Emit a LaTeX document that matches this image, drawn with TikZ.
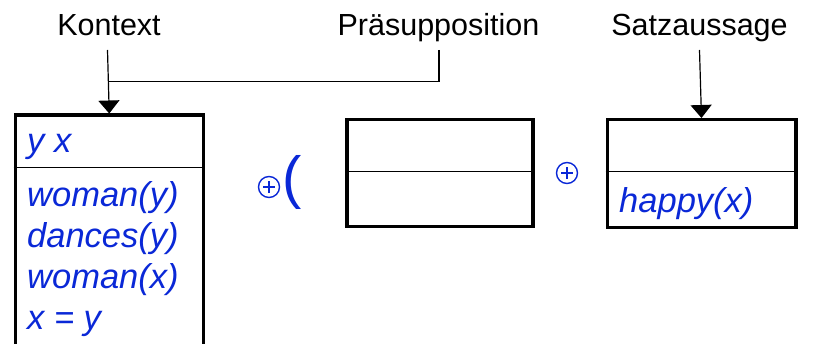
\documentclass[tikz,border=0pt]{standalone}
\usepackage{fontspec}
\setmainfont{Liberation Sans}
\usetikzlibrary{arrows.meta}
\definecolor{drsblue}{RGB}{10,40,215}
\begin{document}
\begin{tikzpicture}[x=1pt,y=-1pt,
  lbl/.style={font=\fontsize{30.5}{36}\selectfont, anchor=base, inner sep=0pt},
  blu/.style={font=\fontsize{34.5}{41}\selectfont\itshape, text=drsblue, anchor=base west, inner sep=0pt},
  drsbox/.style={draw, line width=3.5pt, rectangle, inner sep=0pt, anchor=north west},
  div/.style={line width=1.6pt},
  conn/.style={line width=1.2pt},
  tip/.style={-{Triangle[width=21pt,length=13pt]}},
  opl/.style={circle, draw=drsblue, line width=1.4pt, minimum size=21pt, inner sep=0pt},
  plusarm/.style={draw=drsblue, line width=1.6pt}]
\clip (0,0) rectangle (830,344);
\fill[white] (0,0) rectangle (830,344);
% labels
\node[lbl] (kon) at (109,36) {Kontext};
\node[lbl] (pra) at (438.5,36) {Präsupposition};
\node[lbl] (sat) at (699.5,36) {Satzaussage};
% boxes
\node[drsbox, minimum width=188pt, minimum height=260pt] (kbox) at (13.5,113.5) {};
\node[drsbox, minimum width=186pt, minimum height=107pt] (mbox) at (345,118) {};
\node[drsbox, minimum width=188.5pt, minimum height=108pt] (sbox) at (605.5,118) {};
\draw[div] (13.5,167.7) -- (201.5,167.7);
\draw[div] (345,171.7) -- (531,171.7);
\draw[div] (605.5,171.7) -- (794,171.7);
% texts
\node[blu] (kt1) at (27,153) {y x};
\node[blu] (kt2) at (27,207) {woman(y)};
\node[blu] (kt3) at (27,247.5) {dances(y)};
\node[blu] (kt4) at (27,288.5) {woman(x)};
\node[blu] (kt5) at (27,330) {x = y};
\node[blu] (st1) at (619,213) {happy(x)};
% operators
\node[opl] (op1) at (269,187) {};
\draw[plusarm] ([xshift=-6pt]op1.center) -- ([xshift=6pt]op1.center);
\draw[plusarm] ([yshift=-6pt]op1.center) -- ([yshift=6pt]op1.center);
\node[blu, font=\fontsize{58}{60}\selectfont, anchor=base west] (par) at (282,198) {(};
\node[opl] (op2) at (567,173) {};
\draw[plusarm] ([xshift=-6pt]op2.center) -- ([xshift=6pt]op2.center);
\draw[plusarm] ([yshift=-6pt]op2.center) -- ([yshift=6pt]op2.center);
% connectors
\coordinate (ks) at (107.5,50);
\coordinate (ps) at (439,50);
\coordinate (ss) at (699.5,50);
\coordinate (pj) at (439,81.7);
\draw[conn, tip] (ks) -- (kbox.north);
\draw[conn] (ps) -- (pj) -- (pj -| kbox.north);
\draw[conn, tip] (ss) -- (sbox.north);
\end{tikzpicture}
\end{document}
